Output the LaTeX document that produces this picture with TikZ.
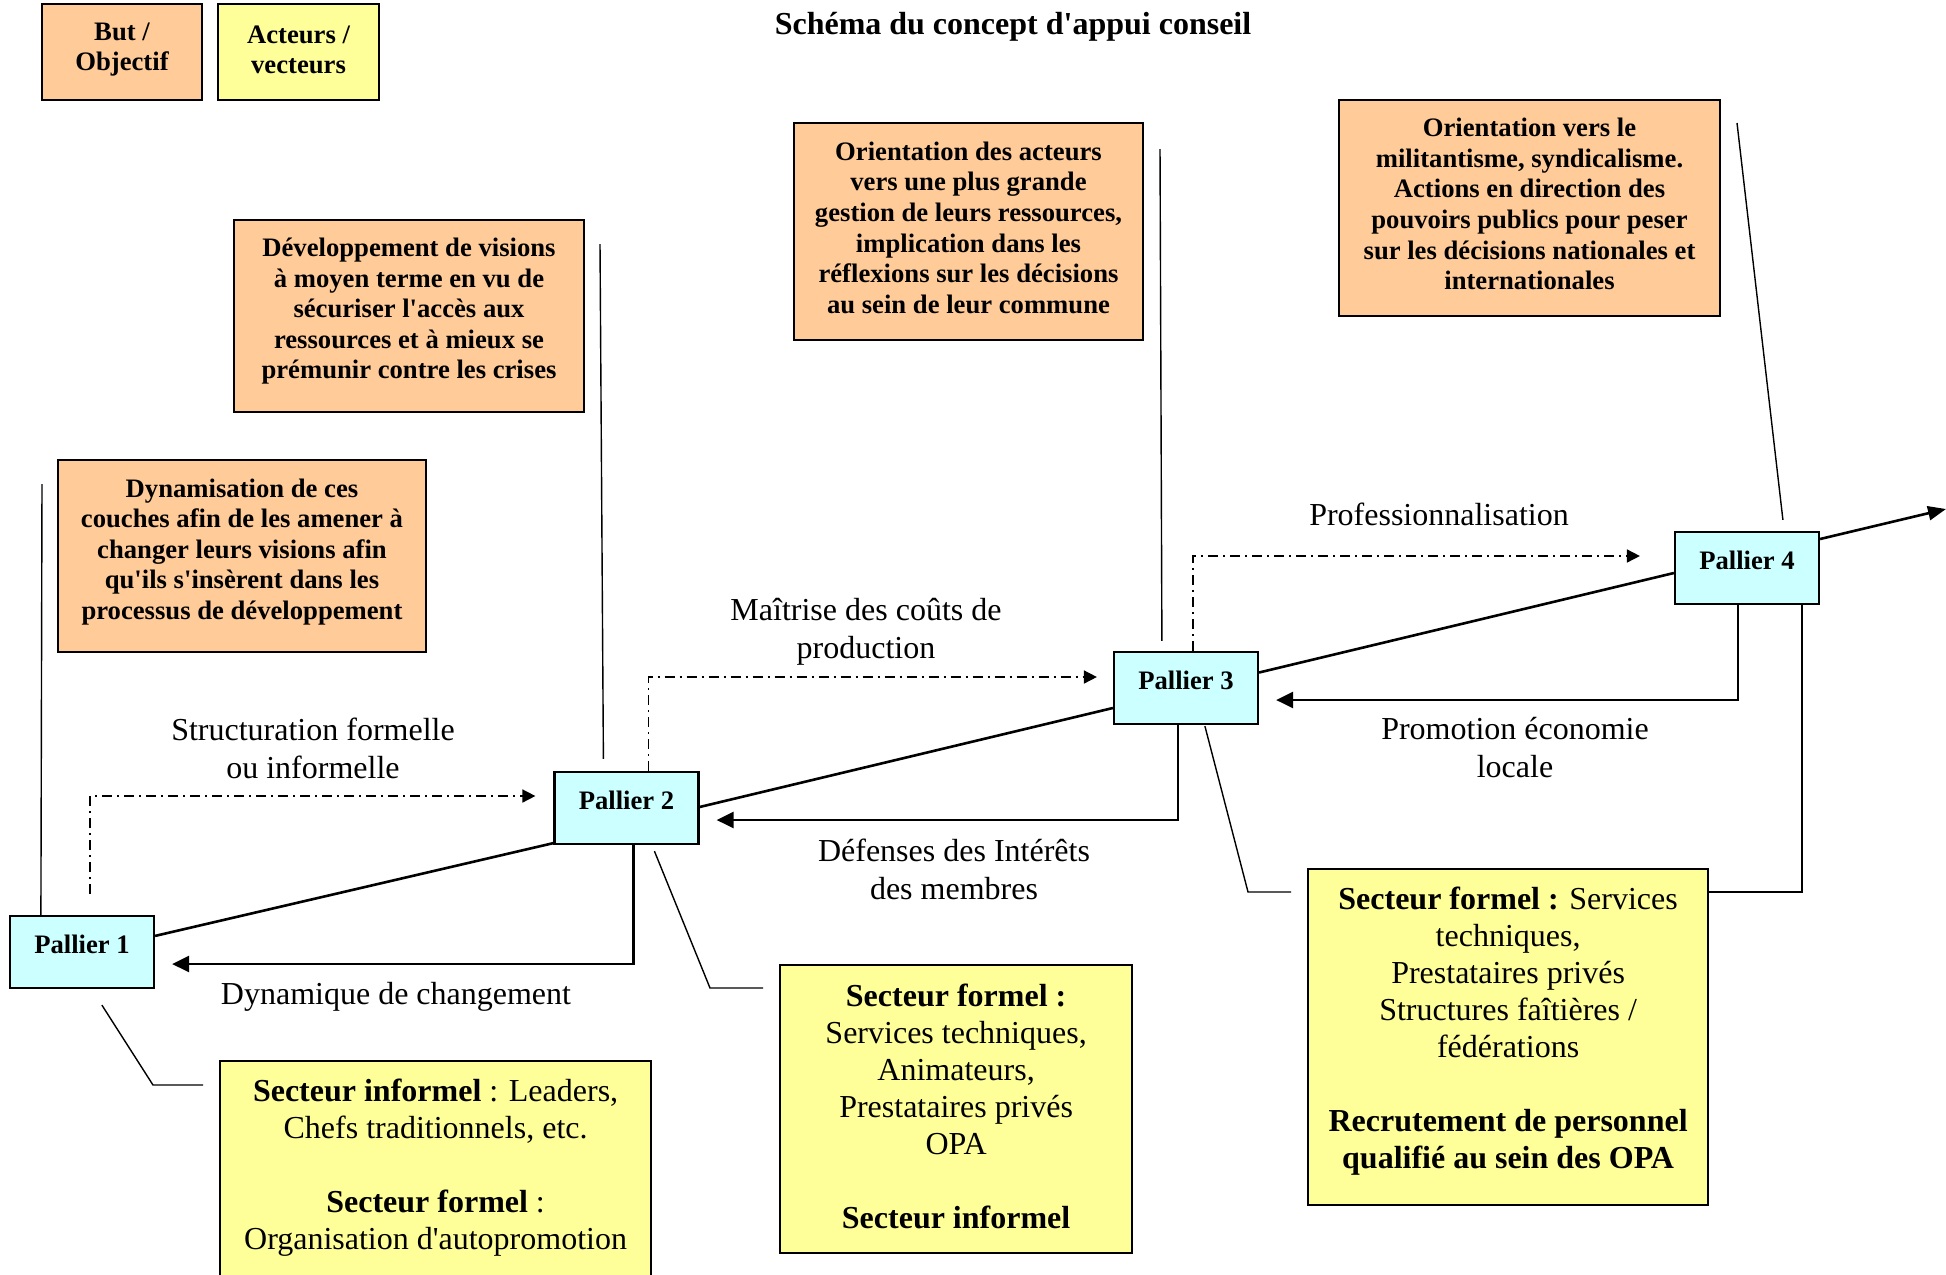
\documentclass[tikz,border=0pt]{standalone}
\usepackage{fontspec}
\setmainfont{Liberation Serif}[Ligatures=TeXOff]
\usetikzlibrary{arrows.meta,calc}
\definecolor{goalfill}{RGB}{255,204,153}
\definecolor{actorfill}{RGB}{255,255,153}
\definecolor{stagefill}{RGB}{204,255,255}

\tikzset{
  goal/.style={draw, line width=1.1pt, fill=goalfill, align=center,
    font=\fontsize{13.33}{15.3}\selectfont\bfseries, inner sep=0pt},
  actor/.style={draw, line width=1.1pt, fill=actorfill, inner sep=0pt},
  actortext/.style={align=center, font=\fontsize{16}{18.5}\selectfont, inner sep=0pt},
  stage/.style={draw, line width=1.1pt, fill=stagefill,
    font=\fontsize{13.33}{15.3}\selectfont\bfseries,
    minimum width=72pt, minimum height=36pt, inner sep=0pt,
    text height=9pt, text depth=8pt},
  flowlabel/.style={align=center, font=\fontsize{16}{19}\selectfont, inner sep=0pt},
  mainflow/.style={line width=1.3pt},
  feedback/.style={line width=1.3pt, -{Triangle[length=8.5pt,width=8pt]}},
  progress/.style={line width=0.8pt, dash pattern=on 5pt off 2.5pt on 1pt off 2.5pt,
    -{Triangle[length=6.5pt,width=6.5pt]}},
  leader/.style={line width=0.7pt},
}

\begin{document}
\begin{tikzpicture}[x=0.5pt, y=-0.5pt]
\path[use as bounding box, fill=white] (0,0) rectangle (1946,1274);

% title
\node[font=\fontsize{16}{18.5}\selectfont\bfseries, inner sep=0pt] (title) at (1013,27)
  {Schéma du concept d'appui conseil};

% legend
\node[goal, minimum width=80pt, minimum height=48pt, text depth=5.4pt] (legGoal) at (122,52) {But /\\Objectif};
\node[goal, fill=actorfill, minimum width=80.5pt, minimum height=48pt, text depth=2.5pt] (legActor) at (298.5,52) {Acteurs /\\vecteurs};

% goals
\node[goal, minimum width=175pt, minimum height=96pt, text depth=7.5pt] (gDev) at (409,316)
  {Développement de visions\\à moyen terme en vu de\\sécuriser l'accès aux\\ressources et à mieux se\\prémunir contre les crises};
\node[goal, minimum width=184pt, minimum height=96pt, text depth=7pt] (gDyn) at (242,556)
  {Dynamisation de ces\\couches afin de les amener à\\changer leurs visions afin\\qu'ils s'insèrent dans les\\processus de développement};
\node[goal, minimum width=174.5pt, minimum height=108.5pt, text depth=4pt] (gGest) at (968.5,231.5)
  {Orientation des acteurs\\vers une plus grande\\gestion de leurs ressources,\\implication dans les\\réflexions sur les décisions\\au sein de leur commune};
\node[goal, minimum width=190.5pt, minimum height=108pt, text depth=4pt] (gMilit) at (1529.5,208)
  {Orientation vers le\\militantisme, syndicalisme.\\Actions en direction des\\pouvoirs publics pour peser\\sur les décisions nationales et\\internationales};

% stages
\node[stage] (p1) at (82,952) {Pallier 1};
\node[stage] (p2) at (626.5,808) {Pallier 2};
\node[stage] (p3) at (1186,688) {Pallier 3};
\node[stage] (p4) at (1747,568) {Pallier 4};

% actors
\node[actor, anchor=north west, minimum width=215.5pt, minimum height=125pt] (aInf) at (219,1060) {};
\node[actortext, anchor=north] (aInfText) at ($(aInf.north)+(0,19)$)
  {\textbf{Secteur informel} : Leaders,\\Chefs traditionnels, etc.\\[18.5pt]\textbf{Secteur formel} :\\Organisation d'autopromotion};

\node[actor, anchor=north west, minimum width=176pt, minimum height=144pt] (aForm) at (779,964) {};
\node[actortext, anchor=north] (aFormText) at ($(aForm.north)+(0,20)$)
  {\textbf{Secteur formel :}\\Services techniques,\\Animateurs,\\Prestataires privés\\OPA\\[18.5pt]\textbf{Secteur informel}};

\node[actor, anchor=north west, minimum width=200pt, minimum height=168pt] (aPro) at (1307,868) {};
\node[actortext, anchor=north] (aProText) at ($(aPro.north)+(0,19)$)
  {\textbf{Secteur formel :} Services\\techniques,\\Prestataires privés\\Structures faîtières /\\fédérations\\[18.5pt]\textbf{Recrutement de personnel}\\\textbf{qualifié au sein des OPA}};

% flow labels
\node[flowlabel] (lStruct) at (313,748) {Structuration formelle\\ou informelle};
\node[flowlabel] (lMaitr) at (866,632) {Maîtrise des coûts de\\production};
\node[flowlabel] (lProf) at (1439,514) {Professionnalisation};
\node[flowlabel] (lDyn) at (396,997) {Dynamique de changement};
\node[flowlabel] (lDef) at (954,869) {Défenses des Intérêts\\des membres};
\node[flowlabel] (lPromo) at (1515,748) {Promotion économie\\locale};

% main rising line
\coordinate (flowEnd) at (1946,509);
\draw[mainflow] ($(p1.north east)+(0,21)$) -- ($(p2.south west)+(0,-2)$);
\draw[mainflow] ($(p2.east)+(0,-1)$) -- ($(p3.west)+(0,20)$);
\draw[mainflow] ($(p3.east)+(0,-15.5)$) -- ($(p4.west)+(0,5)$);
\draw[mainflow, -{Triangle[length=9pt,width=7pt]}] ($(p4.east)+(0,-29)$) -- (flowEnd);

% feedback arrows
\coordinate (fbTip1) at ($(p1.east)+(17,12)$);
\coordinate (fbTip2) at ($(p2.east)+(17,12)$);
\coordinate (fbTip3) at ($(p3.east)+(17,12)$);
\draw[feedback] ($(p2.south west)+(80,0)$) |- (fbTip1);
\draw[feedback] ($(p3.south west)+(65,0)$) |- (fbTip2);
\draw[feedback] ($(p4.south west)+(64,0)$) |- (fbTip3);

% progression arrows
\coordinate (ddStart1) at (90,894);
\coordinate (ddTip1) at ($(p2.west)+(-18,-12)$);
\coordinate (ddTip2) at ($(p3.west)+(-16,-11)$);
\coordinate (ddTip3) at ($(p4.west)+(-34,-12)$);
\draw[progress] (ddStart1) |- (ddTip1);
\draw[progress] ($(p2.north west)+(95,0)$) |- (ddTip2);
\draw[progress] ($(p3.north west)+(80,0)$) |- (ddTip3);

% leaders towards the goals
\coordinate (gDynLead) at (42,484);
\coordinate (gDevLead) at (600,244);
\coordinate (gGestLead) at (1160,149);
\coordinate (gMilitLead) at (1737,123);
\draw[leader] ($(p1.north west)+(32,0)$) -- (gDynLead);
\draw[leader] ($(p2.north west)+(50,-12)$) -- (gDevLead);
\draw[leader] ($(p3.north west)+(49,-10)$) -- (gGestLead);
\draw[leader] ($(p4.north west)+(109,-11)$) -- (gMilitLead);

% leaders towards the actors
\coordinate (aInfEnd) at ($(aInf.north west)+(-16,25)$);
\coordinate (aFormEnd) at ($(aForm.north west)+(-16,24)$);
\coordinate (aProEnd) at ($(aPro.north west)+(-16,24)$);
\draw[leader] ($(p1.south west)+(93,16)$) -- ($(aInfEnd)+(-50,0)$) -- (aInfEnd);
\draw[leader] ($(p2.south west)+(101,6)$) -- ($(aFormEnd)+(-53,0)$) -- (aFormEnd);
\draw[leader] ($(p3.south west)+(92,1)$) -- ($(aProEnd)+(-43,0)$) -- (aProEnd);
\draw[leader] ($(p4.south west)+(128,0)$) |- ($(aPro.north east)+(0,24)$);
\end{tikzpicture}
\end{document}
